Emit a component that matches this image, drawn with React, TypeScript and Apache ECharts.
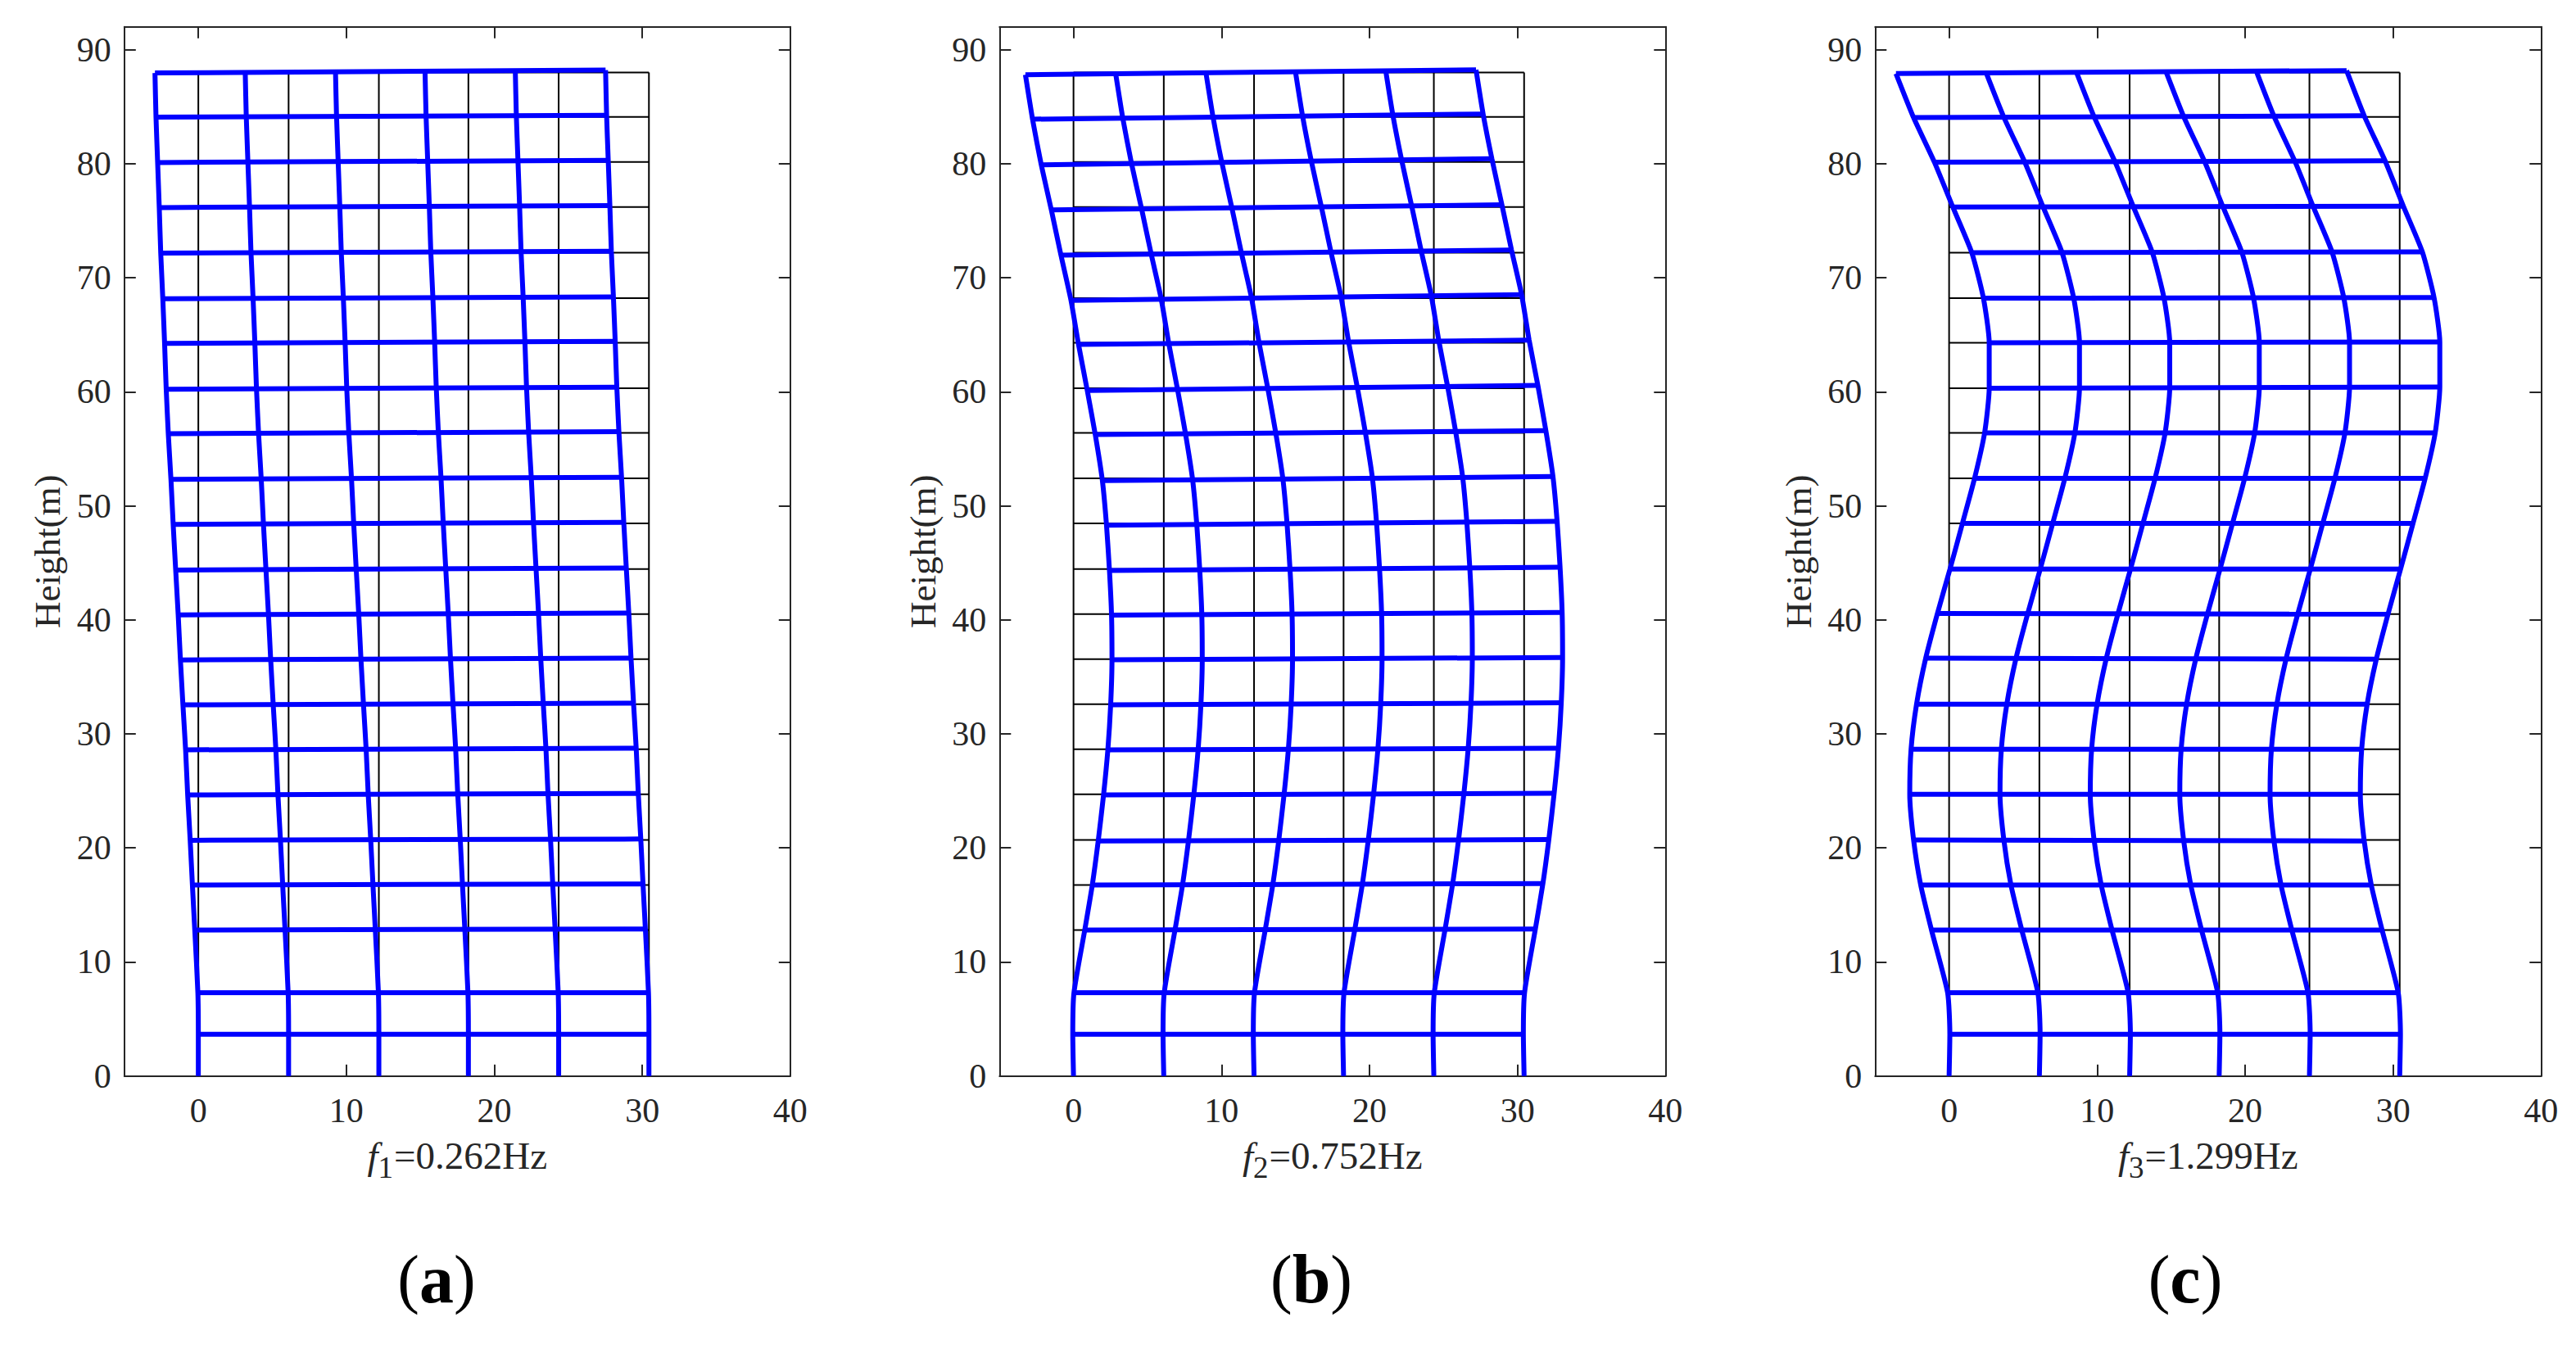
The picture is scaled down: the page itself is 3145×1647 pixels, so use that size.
import React, { useEffect, useRef } from "react";
import * as echarts from "echarts";

const floorLevels = [0, 3.66, 7.3, 12.8, 16.75, 20.7, 24.7, 28.65, 32.6, 36.55, 40.5, 44.45, 48.45, 52.4, 56.4, 60.3, 64.3, 68.2, 72.2, 76.2, 80.15, 84.1, 88];
const columnPositions = [0, 6.1, 12.2, 18.25, 24.35, 30.45];
const xTicks = [0, 10, 20, 30, 40];
const yTicks = [0, 10, 20, 30, 40, 50, 60, 70, 80, 90];

const mode1Sway = [0, 0, -0.03, -0.24, -0.4, -0.55, -0.72, -0.86, -1.04, -1.21, -1.36, -1.53, -1.7, -1.85, -2.03, -2.17, -2.28, -2.4, -2.54, -2.64, -2.75, -2.86, -2.93];
const mode1LiftLeft = [0, 0, 0, 0, 0, -0.03, -0.05, -0.05, -0.06, -0.07, -0.07, -0.08, -0.08, -0.08, -0.08, -0.08, -0.06, -0.05, -0.05, -0.05, -0.05, -0.03, -0.05];
const mode1LiftRight = [0, 0, 0, 0.09, 0.09, 0.08, 0.08, 0.09, 0.09, 0.1, 0.1, 0.1, 0.1, 0.1, 0.1, 0.1, 0.12, 0.12, 0.12, 0.13, 0.14, 0.14, 0.2];

const mode2Sway = [0, -0.05, 0.03, 0.76, 1.27, 1.67, 2.03, 2.32, 2.51, 2.6, 2.57, 2.43, 2.23, 1.95, 1.47, 0.93, 0.34, -0.17, -0.85, -1.5, -2.18, -2.77, -3.25];
const mode2LiftLeft = [0, 0, 0, 0, 0, -0.09, -0.06, -0.06, -0.06, -0.06, -0.09, -0.13, -0.16, -0.19, -0.16, -0.19, -0.16, -0.19, -0.22, -0.25, -0.25, -0.2, -0.2];
const mode2LiftRight = [0, 0, 0, 0.09, 0.12, 0.03, 0.09, 0.09, 0.12, 0.15, 0.15, 0.16, 0.19, 0.16, 0.19, 0.25, 0.22, 0.32, 0.22, 0.19, 0.29, 0.25, 0.22];

const mode3Sway = [0, 0.05, -0.1, -1.19, -1.92, -2.4, -2.66, -2.57, -2.2, -1.58, -0.79, 0.06, 0.9, 1.72, 2.4, 2.71, 2.71, 2.32, 1.53, 0.25, -0.99, -2.4, -3.59];
const mode3LiftLeft = [0, 0, 0, 0, 0, 0, 0, 0, 0, 0.09, 0.05, 0, 0, 0, 0, 0, 0, 0, 0, 0, -0.03, -0.06, -0.1];
const mode3LiftRight = [0, 0, 0, 0, 0, -0.09, 0, 0, 0, 0, 0, 0, 0, 0, 0, 0.12, 0.06, 0.06, 0.06, 0.06, 0.1, 0.1, 0.16];

const panels = [
  { letter: "a", sub: "1", freq: "=0.262Hz", sway: mode1Sway, liftL: mode1LiftLeft, liftR: mode1LiftRight, left: 151.8, labelX: 533 },
  { letter: "b", sub: "2", freq: "=0.752Hz", sway: mode2Sway, liftL: mode2LiftLeft, liftR: mode2LiftRight, left: 1220.3, labelX: 1601 },
  { letter: "c", sub: "3", freq: "=1.299Hz", sway: mode3Sway, liftL: mode3LiftLeft, liftR: mode3LiftRight, left: 2289.3, labelX: 2668 },
];

const FONT = "Liberation Serif";
const INK = "#262626";

function line(gridIdx: number, data: number[][], color: string, width: number, z: number, smooth: number | boolean) {
  return {
    type: "line",
    xAxisIndex: gridIdx * 2,
    yAxisIndex: gridIdx * 2,
    data,
    symbol: "none",
    smooth,
    silent: true,
    clip: false,
    z,
    lineStyle: { color, width },
  };
}

function buildOption() {
  const grid: any[] = [];
  const xAxis: any[] = [];
  const yAxis: any[] = [];
  const series: any[] = [];
  const graphic: any[] = [];
  const axisLine = { show: true, onZero: false, lineStyle: { color: INK, width: 2 } };
  const axisTick = (values: number[]) => ({ show: true, inside: true, length: 14, customValues: values, lineStyle: { color: INK, width: 2 } });

  panels.forEach((p, i) => {
    grid.push({ left: p.left, top: 32.7, width: 813, height: 1281, containLabel: false });
    const xCommon = { type: "value", gridIndex: i, min: -5, max: 40, splitLine: { show: false }, axisLine, axisTick: axisTick(xTicks) };
    xAxis.push({
      ...xCommon,
      position: "bottom",
      axisLabel: { show: true, customValues: xTicks, margin: 21, fontFamily: FONT, fontSize: 42, color: INK },
      name: `{f|f}{s|${p.sub}}{n|${p.freq}}`,
      nameLocation: "middle",
      nameGap: 65,
      nameTextStyle: {
        color: INK,
        fontFamily: FONT,
        rich: {
          f: { fontFamily: FONT, fontStyle: "italic", fontSize: 47, color: INK },
          s: { fontFamily: FONT, fontSize: 37, color: INK, padding: [28, 1, 0, 0] },
          n: { fontFamily: FONT, fontSize: 47, color: INK },
        },
      },
    });
    xAxis.push({ ...xCommon, position: "top", axisLabel: { show: false } });
    const yCommon = { type: "value", gridIndex: i, min: 0, max: 92, splitLine: { show: false }, axisLine, axisTick: axisTick(yTicks) };
    yAxis.push({
      ...yCommon,
      position: "left",
      axisLabel: { show: true, customValues: yTicks, margin: 16, fontFamily: FONT, fontSize: 42, color: INK },
      name: "Height(m)",
      nameLocation: "middle",
      nameRotate: 90,
      nameGap: 71,
      nameTextStyle: { fontFamily: FONT, fontSize: 45, color: INK },
    });
    yAxis.push({ ...yCommon, position: "right", axisLabel: { show: false } });

    const top = floorLevels[floorLevels.length - 1];
    const lastCol = columnPositions[columnPositions.length - 1];
    columnPositions.forEach((c) => {
      series.push(line(i, [[c, 0], [c, top]], "#000000", 2, 2, false));
    });
    floorLevels.slice(1).forEach((lv) => {
      series.push(line(i, [[0, lv], [lastCol, lv]], "#000000", 2, 2, false));
    });
    columnPositions.forEach((c) => {
      const t = c / lastCol;
      const pts = floorLevels.map((lv, k) => [c + p.sway[k], lv + p.liftL[k] + (p.liftR[k] - p.liftL[k]) * t]);
      series.push(line(i, pts, "#0000FF", 6, 3, 0.2));
    });
    floorLevels.forEach((lv, k) => {
      if (k === 0) return;
      series.push(
        line(i, [[p.sway[k], lv + p.liftL[k]], [lastCol + p.sway[k], lv + p.liftR[k]]], "#0000FF", 6, 3, false),
      );
    });

    graphic.push({
      type: "text",
      x: p.labelX,
      y: 1561,
      style: {
        text: `{p|(}{b|${p.letter}}{p|)}`,
        align: "center",
        verticalAlign: "middle",
        fontFamily: FONT,
        rich: {
          p: { fontFamily: FONT, fontSize: 80, fill: "#000" },
          b: { fontFamily: FONT, fontSize: 84, fontWeight: "bold", fill: "#000" },
        },
      },
    });
  });

  return { animation: false, backgroundColor: "#ffffff", grid, xAxis, yAxis, series, graphic };
}

export default function App() {
  const ref = useRef<HTMLDivElement>(null);
  useEffect(() => {
    const chart = echarts.init(ref.current!, null, { renderer: "svg" });
    chart.setOption(buildOption() as any);
    return () => chart.dispose();
  }, []);
  return <div ref={ref} style={{ position: "fixed", left: 0, top: 0, width: 3145, height: 1647 }} />;
}
